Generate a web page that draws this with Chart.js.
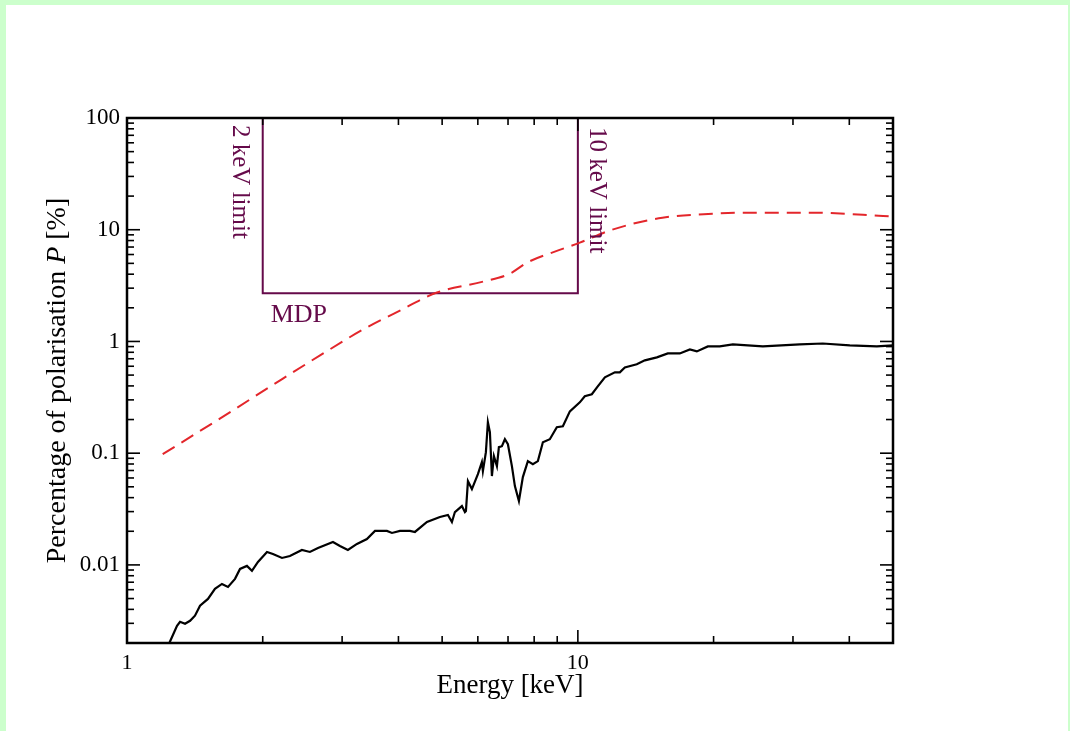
<!DOCTYPE html>
<html><head><meta charset="utf-8">
<script src="https://cdn.jsdelivr.net/npm/chart.js@4.4.1/dist/chart.umd.min.js"></script>
<style>
html,body{margin:0;padding:0;background:#ccffcc;width:1070px;height:731px;overflow:hidden;}
#paper{position:absolute;left:6px;top:5px;width:1062px;height:740px;background:#fff;}
#c{position:absolute;left:0;top:0;}
</style></head><body>
<div id="paper"></div>
<canvas id="c" width="1070" height="731"></canvas>
<script>
// ---- data ----
const energyBlack = [1.22, 1.245, 1.291, 1.311, 1.345, 1.380, 1.415, 1.452, 1.512, 1.567, 1.624, 1.675, 1.736, 1.781, 1.845, 1.893, 1.952, 2.044, 2.107, 2.207, 2.298, 2.443, 2.545, 2.652, 2.863, 2.967, 3.090, 3.236, 3.405, 3.548, 3.772, 3.870, 4.031, 4.241, 4.351, 4.627, 4.943, 5.150, 5.256, 5.337, 5.531, 5.617, 5.646, 5.704, 5.821, 6.002, 6.125, 6.157, 6.252, 6.316, 6.381, 6.447, 6.513, 6.614, 6.681, 6.785, 6.889, 6.996, 7.140, 7.250, 7.400, 7.551, 7.747, 7.947, 8.153, 8.364, 8.666, 8.981, 9.263, 9.600, 10.10, 10.36, 10.74, 11.07, 11.48, 12.08, 12.39, 12.71, 13.51, 14.08, 14.97, 15.83, 16.83, 17.72, 18.36, 19.42, 20.64, 22.07, 25.72, 31.06, 34.93, 40.10, 46.03, 50];
const polBlack = [0.0017, 0.00205, 0.00285, 0.00310, 0.00297, 0.00316, 0.00351, 0.00431, 0.00496, 0.00611, 0.00676, 0.00636, 0.00750, 0.00921, 0.00980, 0.00884, 0.01064, 0.01306, 0.01253, 0.01154, 0.01202, 0.01361, 0.01306, 0.01418, 0.01604, 0.01479, 0.01361, 0.01540, 0.01706, 0.02013, 0.02013, 0.01932, 0.02013, 0.02013, 0.01972, 0.02421, 0.02683, 0.02795, 0.02421, 0.02972, 0.03364, 0.02972, 0.0304, 0.0562, 0.0477, 0.0649, 0.0832, 0.0691, 0.1021, 0.189, 0.154, 0.0624, 0.0940, 0.0766, 0.1132, 0.1155, 0.1334, 0.1203, 0.0766, 0.0507, 0.0373, 0.0611, 0.0849, 0.0798, 0.0849, 0.1253, 0.1334, 0.1706, 0.174, 0.237, 0.285, 0.323, 0.337, 0.396, 0.477, 0.529, 0.529, 0.586, 0.624, 0.677, 0.720, 0.781, 0.781, 0.849, 0.815, 0.902, 0.902, 0.940, 0.902, 0.940, 0.959, 0.921, 0.902, 0.921];

const energyRed = [1.20, 1.61, 2.15, 2.68, 3.34, 4.03, 4.87, 6.16, 7.07, 7.71, 8.89, 10.1, 11.9, 15.4, 19.9, 23.7, 33.2, 42.9, 50];
const polRed = [0.098, 0.205, 0.43, 0.75, 1.28, 1.89, 2.74, 3.43, 4.05, 5.07, 6.37, 7.66, 10.0, 12.8, 13.9, 14.2, 14.2, 13.6, 13.1];

const mdpLevel = 2.7;
const boxEnergy = [2, 2, 10, 10, 2];
const boxPol = [100, mdpLevel, mdpLevel, 100, 100];

const xTickValues = [1, 10];
const xTickLabels = ['1', '10'];
const yTickValues = [0.01, 0.1, 1, 10, 100];
const yTickLabels = ['0.01', '0.1', '1', '10', '100'];

const xMin = 1, xMax = 50, yMin = 0.002, yMax = 100;
const SERIF = "'Liberation Serif', 'Times New Roman', serif";
const PURPLE = '#650a4a';

function minorTicks(lo, hi) {
  const out = [];
  for (let d = Math.pow(10, Math.floor(Math.log10(lo))); d < hi; d *= 10) {
    for (let m = 2; m <= 9; m++) {
      const v = d * m;
      if (v > lo * 1.0001 && v < hi * 0.9999) out.push(v);
    }
  }
  return out;
}

const decor = {
  id: 'decor',
  afterDatasetsDraw(chart) {
    const {ctx, chartArea: a, scales: {x, y}} = chart;
    ctx.save();
    ctx.strokeStyle = '#000';
    const seg = (x1, y1, x2, y2) => { ctx.beginPath(); ctx.moveTo(x1, y1); ctx.lineTo(x2, y2); ctx.stroke(); };
    ctx.lineWidth = 1.6;
    minorTicks(xMin, xMax).forEach(v => {
      const p = x.getPixelForValue(v);
      seg(p, a.bottom, p, a.bottom - 7);
      seg(p, a.top, p, a.top + 7);
    });
    xTickValues.forEach(v => {
      const p = x.getPixelForValue(v);
      seg(p, a.bottom, p, a.bottom - 13);
      seg(p, a.top, p, a.top + 13);
    });
    minorTicks(yMin, yMax).forEach(v => {
      const p = y.getPixelForValue(v);
      seg(a.left, p, a.left + 7, p);
      seg(a.right, p, a.right - 7, p);
    });
    yTickValues.forEach(v => {
      const p = y.getPixelForValue(v);
      seg(a.left, p, a.left + 13, p);
      seg(a.right, p, a.right - 13, p);
    });
    ctx.lineWidth = 2.5;
    ctx.strokeRect(a.left, a.top, a.right - a.left, a.bottom - a.top);

    // annotations
    ctx.fillStyle = PURPLE;
    ctx.font = "25px " + SERIF;
    ctx.textBaseline = 'alphabetic';
    ctx.textAlign = 'left';
    const x2 = x.getPixelForValue(2), x10 = x.getPixelForValue(10), yM = y.getPixelForValue(mdpLevel);
    ctx.save(); ctx.translate(x2 - 30, a.top + 7); ctx.rotate(Math.PI / 2); ctx.fillText('2 keV limit', 0, 0); ctx.restore();
    ctx.save(); ctx.translate(x10 + 12, a.top + 9); ctx.rotate(Math.PI / 2); ctx.fillText('10 keV limit', 0, 0); ctx.restore();
    ctx.font = "26px " + SERIF;
    ctx.fillText('MDP', x2 + 8, yM + 29);

    // y title with italic P
    ctx.fillStyle = '#000';
    const parts = [['Percentage of polarisation ', 'normal'], ['P', 'italic'], [' [%]', 'normal']];
    const fs = 28;
    let total = 0;
    parts.forEach(p => { ctx.font = p[1] + ' ' + fs + 'px ' + SERIF; p.push(ctx.measureText(p[0]).width); total += p[2]; });
    ctx.save();
    ctx.translate(65, (a.top + a.bottom) / 2);
    ctx.rotate(-Math.PI / 2);
    let cx = -total / 2;
    parts.forEach(p => { ctx.font = p[1] + ' ' + fs + 'px ' + SERIF; ctx.fillText(p[0], cx, 0); cx += p[2]; });
    ctx.restore();
    ctx.restore();
  }
};

new Chart(document.getElementById('c'), {
  type: 'line',
  data: {
    datasets: [
      { label: 'P', data: energyBlack.map((e, i) => ({x: e, y: polBlack[i]})), borderColor: '#000', borderWidth: 2.2, pointRadius: 0, tension: 0 },
      { label: 'MDP curve', data: energyRed.map((e, i) => ({x: e, y: polRed[i]})), borderColor: '#e3262b', borderWidth: 2, borderDash: [14, 8], pointRadius: 0, cubicInterpolationMode: 'monotone' },
      { label: 'MDP box', data: boxEnergy.map((e, i) => ({x: e, y: boxPol[i]})), borderColor: PURPLE, borderWidth: 2, pointRadius: 0, tension: 0 }
    ]
  },
  options: {
    responsive: false,
    animation: false,
    devicePixelRatio: 1,
    layout: { padding: { left: 0, top: 118, right: 177, bottom: 18 } },
    plugins: { legend: { display: false }, tooltip: { enabled: false } },
    scales: {
      x: {
        type: 'logarithmic', min: xMin, max: xMax,
        grid: { display: false, drawTicks: false }, border: { display: false },
        afterBuildTicks: s => { s.ticks = xTickValues.map(v => ({value: v})); },
        afterFit: s => { s.height = 70; },
        ticks: { autoSkip: false, maxRotation: 0, padding: 7, color: '#000', font: { family: SERIF, size: 22 },
                 callback: (v, i) => xTickLabels[i] },
        title: { display: true, text: 'Energy [keV]', color: '#000', font: { family: SERIF, size: 27, lineHeight: 1.2 }, padding: { top: 0, bottom: 11 } }
      },
      y: {
        type: 'logarithmic', min: yMin, max: yMax,
        grid: { display: false, drawTicks: false }, border: { display: false },
        afterBuildTicks: s => { s.ticks = yTickValues.map(v => ({value: v})); },
        afterFit: s => { s.width = 127; },
        ticks: { autoSkip: false, padding: 7, color: '#000', font: { family: SERIF, size: 23 },
                 callback: (v, i) => yTickLabels[i] }
      }
    }
  },
  plugins: [decor]
});
</script>
</body></html>
